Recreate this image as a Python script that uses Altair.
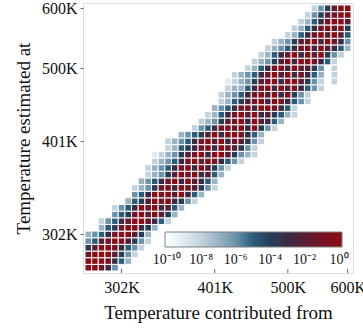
import altair as alt
import pandas as pd

# --- data -----------------------------------------------------------------
# Each row r (temperature estimated at, bottom = 0) starts at column row_start[r];
# each character is -log10(value) of one cell ('a' = 10, '.' = empty cell).
row_start = [0, 0, 0, 0, 0, 0, 2, 2, 4, 4,
             6, 7, 7, 8, 9, 9, 10, 10, 12, 12,
             14, 16, 17, 18, 19, 20, 20, 21, 21, 22,
             24, 25, 26, 27, 28, 30, 31, 32, 33, 34]
row_cells = [
    "00136",
    "0001357",
    "10002468",
    "420013568",
    "6521002468",
    "7653100247",
    "754100347",
    "86531001358",
    "6541020247",
    "86530103257",
    "75420103468",
    "65301020357",
    "8764103012468",
    "765310302357",
    "876420103257",
    "8765310302468",
    "87653102013568",
    "9876421030024678",
    "87543103012468",
    "876531020312468",
    "7654203001357",
    "8653102030468",
    "8764210302357",
    "87531020324578",
    "7653103001358",
    "87542103013568",
    "87653102030468",
    "877531030213568",
    "987642103002468.8",
    "87653102031357.8",
    "875310302246.8",
    "8764203001358",
    "8753103020468",
    "8765310302357",
    "876421030136",
    "8753102025",
    "875310204",
    "87531002",
    "8642100",
    "864200",
]

tick_index = [5, 19, 30, 39]
tick_labels = ["302K", "401K", "500K", "600K"]

legend_exponents = [-10, -8, -6, -4, -2, 0]
legend_labels = ["10⁻¹⁰", "10⁻⁸", "10⁻⁶", "10⁻⁴", "10⁻²", "10⁰"]

# colour bar runs slightly past 10^-10 and 10^0, as in the picture
color_stops = [-10.1, -10, -9, -8, -7, -6, -5, -4, -3, -2, -1, 0, 0.17]
color_range = ["#ffffff", "#ffffff", "#e2eaef", "#c3d2dc", "#98b3c4", "#6a93ab", "#2a5d7c",
               "#263d58", "#3a2a45", "#5a1e33", "#741426", "#8a0d15", "#8a0d15"]

# --- build table -------------------------------------------------------------
recs = []
for r, (s, cells) in enumerate(zip(row_start, row_cells)):
    for k, ch in enumerate(cells):
        if ch == ".":
            continue
        code = 10 if ch == "a" else int(ch)
        c = s + k
        recs.append({"c": c, "c2": c + 1, "r": r, "r2": r + 1, "logv": -code})
df = pd.DataFrame(recs)

FONT = "Liberation Serif"
dom = [-0.3, 40.3]

tick_vals = [i + 0.5 for i in tick_index]
lab_expr = " : ".join(f"datum.value == {v} ? '{l}'" for v, l in zip(tick_vals, tick_labels)) + " : ''"
leg_expr = " : ".join(f"datum.value == {v} ? '{l}'" for v, l in zip(legend_exponents, legend_labels)) + " : ''"

heat = alt.Chart(df).mark_rect(stroke="white", strokeWidth=1).encode(
    x=alt.X("c:Q", scale=alt.Scale(domain=dom, nice=False, zero=False),
            axis=alt.Axis(title="Temperature contributed from", values=tick_vals, labelExpr=lab_expr,
                          domain=False, ticks=False, grid=False, labelPadding=6,
                          labelFont=FONT, labelFontSize=16, labelColor="#111",
                          titleFont=FONT, titleFontSize=19, titleFontWeight="normal",
                          titleColor="#111", titlePadding=8)),
    x2="c2:Q",
    y=alt.Y("r:Q", scale=alt.Scale(domain=dom, nice=False, zero=False),
            axis=alt.Axis(title="Temperature estimated at", values=tick_vals, labelExpr=lab_expr,
                          domain=False, ticks=True, tickSize=3, tickColor="#666", grid=False,
                          labelPadding=3, labelFont=FONT, labelFontSize=16, labelColor="#111",
                          titleFont=FONT, titleFontSize=19, titleFontWeight="normal",
                          titleColor="#111", titlePadding=8)),
    y2="r2:Q",
    color=alt.Color("logv:Q",
                    scale=alt.Scale(domain=color_stops, range=color_range, clamp=True),
                    legend=alt.Legend(orient="none", legendX=82, legendY=229, direction="horizontal",
                                      title=None, gradientLength=177, gradientThickness=15,
                                      values=legend_exponents, labelExpr=leg_expr,
                                      labelOverlap=False,
                                      labelFont=FONT, labelFontSize=14, labelColor="#111",
                                      labelAlign="center", labelOffset=6,
                                      gradientStrokeColor="#808080", gradientStrokeWidth=1)),
)

ticks_df = pd.DataFrame({"t": tick_vals})
xticks = alt.Chart(ticks_df).mark_rule(color="#666", strokeWidth=1).encode(
    x=alt.X("t:Q"), y=alt.value(270), y2=alt.value(266))

chart = alt.layer(heat, xticks).properties(
    width=270, height=270,
    autosize=alt.AutoSizeParams(type="none"),
    padding={"left": 83, "top": 3, "right": 10, "bottom": 60},
).configure_view(stroke="#808080", strokeWidth=1.2).configure(background="white")

chart.save("out.html", embed_options={"renderer": "svg", "actions": False})
